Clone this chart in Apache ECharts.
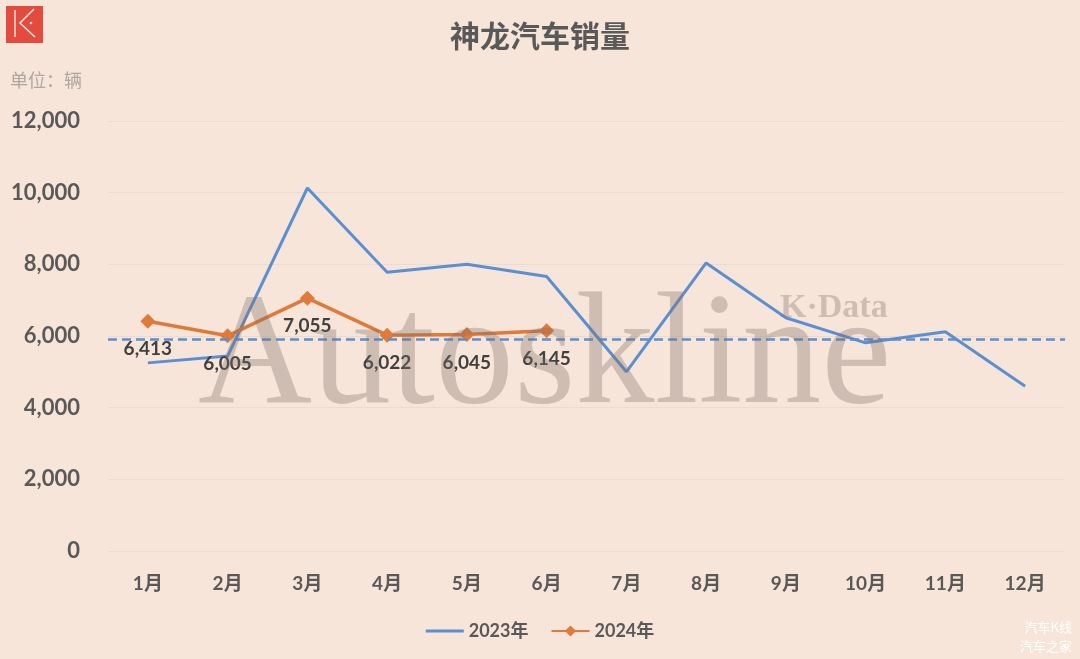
<!DOCTYPE html>
<html><head><meta charset="utf-8">
<script src="https://cdn.jsdelivr.net/npm/echarts@6/dist/echarts.min.js"></script>
<style>html,body{margin:0;padding:0;background:#F7E5D9;}#c{width:1080px;height:659px;}</style>
</head><body><div id="c"></div>
<script>
const categories = ['1月','2月','3月','4月','5月','6月','7月','8月','9月','10月','11月','12月'];
const sales2023 = [5250, 5440, 10130, 7780, 8000, 7660, 5000, 8040, 6510, 5810, 6120, 4600];
const sales2024 = [6413, 6005, 7055, 6022, 6045, 6145];
const refLineValue = 5920;
const yTicks = [0, 2000, 4000, 6000, 8000, 10000, 12000];

const FONT = "Lato, 'Noto Sans CJK SC', sans-serif";
const chart = echarts.init(document.getElementById('c'));
chart.setOption({
  backgroundColor: '#F7E5D9',
  animation: false,
  title: {
    text: '神龙汽车销量', left: 'center', top: 16,
    textStyle: { fontFamily: "'Noto Sans CJK SC', sans-serif", fontSize: 30, fontWeight: 'bold', color: '#595959' }
  },
  grid: { left: 108, right: 15, top: 121, bottom: 108 },
  legend: {
    bottom: 14, left: 'center', itemWidth: 38, itemHeight: 14, itemGap: 22,
    textStyle: { fontFamily: FONT, fontSize: 18, fontWeight: 'bold', color: '#595959' },
    data: [
      { name: '2023年', icon: 'path://M0,0 L38,0 L38,3 L0,3 Z' },
      { name: '2024年' }
    ]
  },
  xAxis: {
    type: 'category', data: categories, boundaryGap: true,
    axisLine: { show: false }, axisTick: { show: false },
    axisLabel: { fontFamily: FONT, fontSize: 19, fontWeight: 'bold', color: '#595959', margin: 23 }
  },
  yAxis: {
    type: 'value', min: yTicks[0], max: yTicks[yTicks.length - 1], interval: 2000,
    axisLine: { show: false }, axisTick: { show: false },
    axisLabel: {
      fontFamily: FONT, fontSize: 22, fontWeight: 'bold', color: '#595959', margin: 28,
      formatter: v => v.toLocaleString('en-US')
    },
    splitLine: { lineStyle: { color: '#E9DCD6', width: 1 } }
  },
  series: [
    {
      name: '2023年', type: 'line', data: sales2023, symbol: 'none',
      lineStyle: { color: '#5B8FD2', width: 3 }, itemStyle: { color: '#5B8FD2' },
      markLine: {
        silent: true, symbol: 'none', label: { show: false },
        lineStyle: { color: '#5B8FD2', type: [9, 5], width: 2.5 },
        data: [{ yAxis: refLineValue }]
      }
    },
    {
      name: '2024年', type: 'line', data: sales2024, symbol: 'diamond', symbolSize: 15,
      lineStyle: { color: '#E07A3A', width: 3.5 }, itemStyle: { color: '#E07A3A' },
      label: {
        show: true, position: 'bottom', distance: 11,
        fontFamily: FONT, fontSize: 19, fontWeight: 'bold', color: '#404040',
        formatter: p => p.value.toLocaleString('en-US')
      }
    }
  ],
  graphic: [
    { type: 'rect', left: 6, top: 6, shape: { width: 37, height: 37 }, style: { fill: '#E24B3D' }, z: 100 },
    { type: 'line', shape: { x1: 15, y1: 10, x2: 15, y2: 37 }, style: { stroke: '#FBE3DF', lineWidth: 1.5 }, z: 101 },
    { type: 'polyline', shape: { points: [[34, 9], [20, 23], [35, 37]] }, style: { stroke: '#FBE3DF', lineWidth: 1.5, fill: null }, z: 101 },
    { type: 'circle', shape: { cx: 31, cy: 23, r: 1.3 }, style: { fill: '#FBE3DF' }, z: 101 },
    { type: 'text', left: 10, top: 71, style: { text: '单位：辆', fontFamily: "'Noto Sans CJK SC', sans-serif", fontSize: 18, fill: '#ADA6A2' }, z: 100 },
    { type: 'text', x: 198, y: 281, style: { text: 'Autoskline', fontFamily: "'Liberation Serif', serif", fontSize: 158, fill: 'rgba(125,110,100,0.33)' }, z: 50 },
    { type: 'text', x: 780, y: 291, style: { text: 'K·Data', fontFamily: "'Liberation Serif', serif", fontSize: 34, fontWeight: 'bold', fill: 'rgba(125,110,100,0.33)' }, z: 50 },
    { type: 'text', right: 8, top: 621, style: { text: '汽车K线', fontFamily: "'Noto Sans CJK SC', sans-serif", fontSize: 13, fill: '#FFFFFF', textAlign: 'right' }, z: 100 },
    { type: 'text', right: 8, top: 640, style: { text: '汽车之家', fontFamily: "'Noto Sans CJK SC', sans-serif", fontSize: 13, fill: '#FFFFFF', textAlign: 'right' }, z: 100 }
  ]
});
</script></body></html>
